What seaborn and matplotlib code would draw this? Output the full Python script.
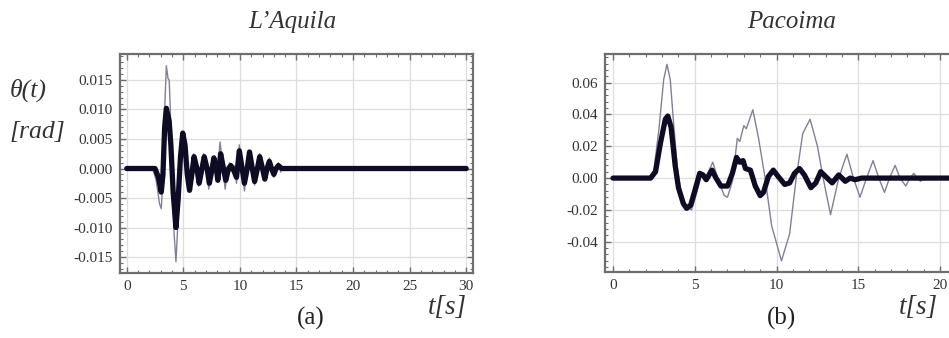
import numpy as np
import pandas as pd
import matplotlib
matplotlib.use("Agg")
import matplotlib.pyplot as plt
import seaborn as sns
from matplotlib.ticker import MultipleLocator, FormatStrFormatter

# ---------------- data ----------------
titles = ["L\u2019Aquila", "Pacoima"]
panel_labels = ["(a)", "(b)"]

laq_t_thin = [0, 2.3, 2.6, 2.9, 3.05, 3.2, 3.35, 3.5, 3.65, 3.75, 3.85, 4.0, 4.15, 4.35, 4.5,
              4.7, 4.9, 5.05, 5.3, 5.5, 5.7, 5.9, 6.15, 6.35, 6.6, 6.8, 7.05, 7.25, 7.45, 7.65,
              7.85, 8.0, 8.25, 8.5, 8.7, 8.9, 9.1, 9.3, 9.5, 9.7, 9.95, 10.2, 10.4, 10.65, 10.85,
              11.1, 11.3, 11.55, 11.75, 12.0, 12.2, 12.4, 12.6, 12.8, 13.0, 13.2, 13.4, 13.6,
              13.8, 14.1, 30]
laq_thin = [0, 0, -0.002, -0.006, -0.0068, -0.002, 0.010, 0.0174, 0.0152, 0.0150, 0.010, 0.0,
            -0.010, -0.0158, -0.010, 0.0, 0.0058, 0.005, 0.0, -0.0035, -0.001, 0.0025, 0.0,
            -0.003, 0.0, 0.0025, 0.0, -0.0035, 0.0, 0.002, 0.0, -0.001, 0.0045, 0.0, -0.0035,
            0.0, 0.001, 0.0, 0.0005, -0.0025, 0.004, 0.0, -0.0038, 0.0, 0.003, 0.0, -0.0028,
            0.0, 0.0025, 0.0, -0.002, 0.0, 0.0018, 0.0, -0.0015, 0.0, 0.001, -0.0006, 0.0003,
            0, 0]

laq_t_thick = [0, 2.5, 2.8, 3.05, 3.2, 3.35, 3.5, 3.75, 3.9, 4.1, 4.35, 4.55, 4.75, 4.95, 5.15,
               5.35, 5.55, 5.75, 5.95, 6.2, 6.4, 6.65, 6.85, 7.1, 7.3, 7.55, 7.7, 7.95, 8.05,
               8.3, 8.55, 8.75, 9.0, 9.2, 9.5, 9.7, 9.95, 10.2, 10.4, 10.65, 10.85, 11.1, 11.3,
               11.55, 11.75, 12.0, 12.2, 12.4, 12.6, 12.8, 13.0, 13.2, 13.4, 13.7, 30]
laq_thick = [0, 0, -0.0015, -0.004, -0.001, 0.007, 0.0102, 0.008, 0.004, -0.004, -0.010, -0.005,
             0.002, 0.006, 0.004, -0.001, -0.0037, -0.001, 0.002, 0, -0.0025, 0, 0.002, 0,
             -0.0025, 0.0, 0.0018, -0.0005, -0.002, 0.0025, 0, -0.002, 0.0, 0.0005, -0.0005,
             -0.0015, 0.003, 0, -0.0025, 0, 0.0028, 0, -0.0022, 0, 0.002, 0, -0.0018, 0, 0.0012,
             0, -0.001, 0, 0.0005, 0, 0]

pac_t_thin = [0, 2.2, 2.5, 2.8, 3.1, 3.3, 3.5, 3.7, 3.95, 4.2, 4.5, 4.8, 5.1, 5.4, 5.7, 6.1,
              6.4, 6.8, 7.0, 7.3, 7.6, 7.75, 8.0, 8.15, 8.55, 8.9, 9.3, 9.7, 10.3, 10.8, 11.2,
              11.6, 12.05, 12.5, 12.85, 13.3, 13.8, 14.3, 14.7, 15.1, 15.5, 15.9, 16.25, 16.6,
              16.9, 17.25, 17.55, 17.9, 18.15, 18.4, 18.6, 18.8, 19.0, 19.2, 19.5, 22]
pac_thin = [0, 0, 0.005, 0.030, 0.062, 0.0715, 0.062, 0.035, 0.005, -0.012, -0.018, -0.020,
            -0.010, 0.002, 0.001, 0.010, 0.0, -0.011, -0.012, -0.002, 0.025, 0.023, 0.033,
            0.031, 0.043, 0.025, 0.0, -0.030, -0.052, -0.035, 0.0, 0.028, 0.037, 0.020, 0.0,
            -0.023, 0.0, 0.015, 0.0, -0.012, 0.0, 0.011, 0.0, -0.009, 0.0, 0.008, 0.0, -0.005,
            0.0, 0.003, 0.0, -0.002, 0, 0.001, 0, 0]

pac_t_thick = [0, 2.3, 2.6, 2.9, 3.2, 3.35, 3.55, 3.8, 4.0, 4.3, 4.5, 4.75, 5.0, 5.3, 5.5, 5.7,
               6.05, 6.3, 6.6, 7.0, 7.3, 7.55, 7.75, 7.95, 8.1, 8.4, 8.7, 9.0, 9.2, 9.5, 9.8,
               10.1, 10.5, 10.8, 11.1, 11.4, 11.7, 12.1, 12.4, 12.7, 13.0, 13.4, 13.8, 14.2,
               14.5, 14.8, 15.2, 22]
pac_thick = [0, 0, 0.004, 0.022, 0.037, 0.039, 0.032, 0.008, -0.006, -0.016, -0.019, -0.017,
             -0.008, 0.003, 0.002, -0.001, 0.005, 0.0, -0.005, -0.005, 0.003, 0.013, 0.010,
             0.011, 0.006, 0.005, -0.005, -0.011, -0.009, 0.001, 0.005, 0.001, -0.004, -0.003,
             0.003, 0.006, 0.002, -0.006, -0.003, 0.004, 0.001, -0.003, 0.002, -0.002, 0.0,
             -0.001, 0, 0]

# ---------------- style ----------------
sns.set_theme(style="white")
plt.rcParams["font.family"] = ["Liberation Serif", "DejaVu Serif"]
plt.rcParams["axes.unicode_minus"] = False

THIN = "#857f94"
THICK = "#0e0c24"
GRID = "#dedede"
FRAME = "#6e6e6e"
TXT = "#333333"

fig = plt.figure(figsize=(9.49, 3.38), dpi=100)
ax1 = fig.add_axes([0.1264, 0.1923, 0.372, 0.648])
ax2 = fig.add_axes([0.6375, 0.1953, 0.379, 0.645])

def draw(ax, t_thin, v_thin, t_thick, v_thick):
    d1 = pd.DataFrame({"t": t_thin, "v": v_thin})
    d2 = pd.DataFrame({"t": t_thick, "v": v_thick})
    sns.lineplot(data=d1, x="t", y="v", ax=ax, color=THIN, lw=1.0, estimator=None, sort=False, zorder=3)
    sns.lineplot(data=d2, x="t", y="v", ax=ax, color=THICK, lw=3.8, estimator=None, sort=False,
                 zorder=4, solid_joinstyle="round", solid_capstyle="round")
    ax.set_xlabel("")
    ax.set_ylabel("")
    ax.grid(True, color=GRID, lw=0.9, zorder=0)
    for s in ax.spines.values():
        s.set_color(FRAME)
        s.set_linewidth(1.6)
    ax.tick_params(which="both", direction="in", top=True, right=True, bottom=True, left=True,
                   color=FRAME, labelsize=11, labelcolor=TXT)
    ax.tick_params(which="major", length=4, width=1.0, pad=5)
    ax.tick_params(which="minor", length=2, width=0.8)

draw(ax1, laq_t_thin, laq_thin, laq_t_thick, laq_thick)
ax1.set_xlim(-0.6, 30.6)
ax1.set_ylim(-0.0177, 0.0194)
ax1.xaxis.set_major_locator(MultipleLocator(5))
ax1.xaxis.set_minor_locator(MultipleLocator(1))
ax1.yaxis.set_major_locator(MultipleLocator(0.005))
ax1.yaxis.set_minor_locator(MultipleLocator(0.001))
ax1.yaxis.set_major_formatter(FormatStrFormatter("%.3f"))

draw(ax2, pac_t_thin, pac_thin, pac_t_thick, pac_thick)
ax2.set_xlim(-0.49, 21.5)
ax2.set_ylim(-0.059, 0.078)
ax2.xaxis.set_major_locator(MultipleLocator(5))
ax2.xaxis.set_minor_locator(MultipleLocator(1))
ax2.yaxis.set_major_locator(MultipleLocator(0.02))
ax2.yaxis.set_minor_locator(MultipleLocator(0.004))
ax2.yaxis.set_major_formatter(FormatStrFormatter("%.2f"))

# ---------------- texts ----------------
fig.text(292 / 949, 1 - 22 / 338, titles[0], ha="center", va="center", fontsize=18, style="italic", color=TXT)
fig.text(792 / 949, 1 - 22 / 338, titles[1], ha="center", va="center", fontsize=18, style="italic", color=TXT)
fig.text(28 / 949, 1 - 90 / 338, "\u03b8(t)", ha="center", va="center", fontsize=18.5, style="italic", color=TXT)
fig.text(37 / 949, 1 - 132 / 338, "[rad]", ha="center", va="center", fontsize=18.5, style="italic", color=TXT)
fig.text(311 / 949, 1 - 318 / 338, panel_labels[0], ha="center", va="center", fontsize=18, color="#222222")
fig.text(781 / 949, 1 - 318 / 338, panel_labels[1], ha="center", va="center", fontsize=18, color="#222222")
fig.text(447 / 949, 1 - 308 / 338, "t[s]", ha="center", va="center", fontsize=19.5, style="italic", color=TXT)
fig.text(918 / 949, 1 - 308 / 338, "t[s]", ha="center", va="center", fontsize=19.5, style="italic", color=TXT)

fig.savefig("out.png", dpi=100)
